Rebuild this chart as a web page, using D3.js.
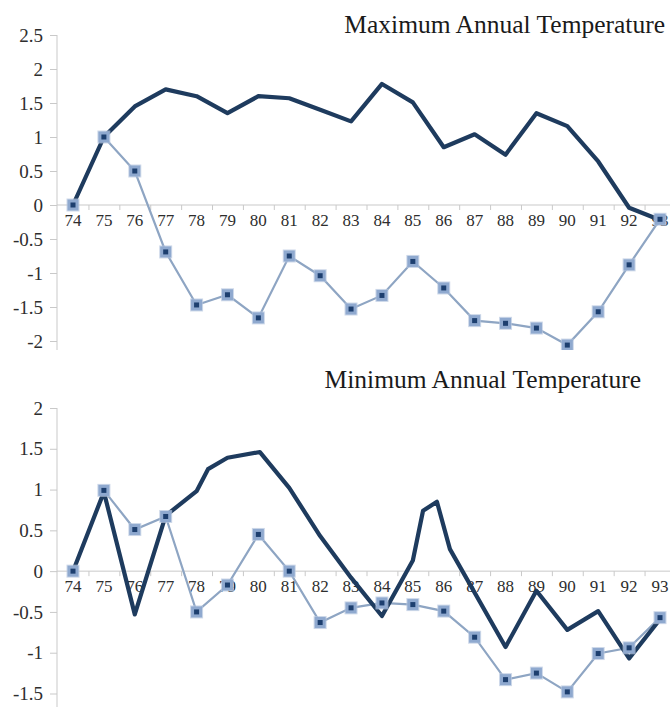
<!DOCTYPE html>
<html><head><meta charset="utf-8">
<script src="https://cdn.jsdelivr.net/npm/d3@7"></script>
<style>
html,body{margin:0;padding:0;background:#fff;}
svg{display:block;}
</style></head>
<body>
<svg id="chart" width="670" height="707"></svg>
<script>
// ---- data ----
const years = [74,75,76,77,78,79,80,81,82,83,84,85,86,87,88,89,90,91,92,93];

const maxTitle = "Maximum Annual Temperature";
const maxDark  = [0, 1.0, 1.45, 1.70, 1.60, 1.35, 1.60, 1.57, 1.40, 1.23, 1.78, 1.51, 0.85, 1.04, 0.74, 1.35, 1.16, 0.64, -0.04, -0.22];
const maxLight = [0, 1.0, 0.5, -0.69, -1.47, -1.32, -1.66, -0.75, -1.04, -1.53, -1.33, -0.83, -1.22, -1.70, -1.74, -1.81, -2.06, -1.57, -0.88, -0.21];
const maxTicks = [2.5, 2, 1.5, 1, 0.5, 0, -0.5, -1, -1.5, -2];

const minTitle = "Minimum Annual Temperature";
const minDarkYears = [74, 75, 76, 77, 78, 78.37, 79, 80.05, 81, 82, 83, 84, 85, 85.33, 85.78, 86.2, 88, 89, 90, 91, 92, 93];
const minDark      = [0, 0.97, -0.53, 0.68, 0.98, 1.25, 1.39, 1.46, 1.02, 0.43, -0.08, -0.55, 0.13, 0.74, 0.85, 0.27, -0.93, -0.24, -0.72, -0.49, -1.07, -0.59];
const minLight = [0, 0.99, 0.51, 0.67, -0.5, -0.17, 0.45, 0.0, -0.63, -0.45, -0.39, -0.41, -0.49, -0.81, -1.33, -1.25, -1.48, -1.01, -0.94, -0.57];
const minTicks = [2, 1.5, 1, 0.5, 0, -0.5, -1, -1.5];

// ---- drawing ----
const svg = d3.select("#chart");
const W = 670;
const axisX = 57;
const darkColor = "#1e3b5e";
const lightColor = "#8ea5c3";
const axisColor = "#c9c9c9";
const textColor = "#2e2e2e";
const serif = "'Liberation Serif','Times New Roman',serif";

const x = d3.scaleLinear().domain([74, 93]).range([73, 660]);
const boundaries = d3.range(74.5, 94, 1);

function panel(cfg) {
  const y = d3.scaleLinear().domain(cfg.domain).range(cfg.range);
  const g = svg.append("g");
  const clipId = "clip" + cfg.id;
  svg.append("clipPath").attr("id", clipId)
    .append("rect").attr("x", 0).attr("y", cfg.clip[0]).attr("width", W).attr("height", cfg.clip[1] - cfg.clip[0]);
  const cg = g.append("g").attr("clip-path", `url(#${clipId})`);

  // title
  svg.append("text")
    .attr("x", cfg.titleX).attr("y", cfg.titleY)
    .attr("text-anchor", "end")
    .attr("font-family", serif).attr("font-size", 25.5)
    .attr("fill", "#1a1a1a")
    .text(cfg.title);

  // y axis
  const yAxis = d3.axisLeft(y).tickValues(cfg.ticks).tickSize(7).tickPadding(7)
    .tickFormat(d => String(d));
  const ya = cg.append("g").attr("transform", `translate(${axisX},0)`).call(yAxis);
  ya.select(".domain").attr("stroke", axisColor).attr("stroke-width", 1)
    .attr("d", `M0,${y(cfg.ticks[0])}V${cfg.clip[1]}`);
  ya.selectAll(".tick line").attr("stroke", axisColor);
  ya.selectAll(".tick text").attr("font-family", serif).attr("font-size", 19).attr("fill", textColor);

  // x axis at zero
  const xa = cg.append("g").attr("transform", `translate(0,${y(0)})`)
    .call(d3.axisBottom(x).tickValues(boundaries).tickSize(5).tickFormat(""));
  xa.select(".domain").attr("stroke", axisColor).attr("d", `M${axisX},0H${W}`);
  xa.selectAll(".tick line").attr("stroke", axisColor);
  xa.selectAll("text.yr").data(years).join("text").attr("class", "yr")
    .attr("x", d => x(d)).attr("y", 21)
    .attr("text-anchor", "middle")
    .attr("font-family", serif).attr("font-size", 17).attr("fill", textColor)
    .text(d => d);

  const line = d3.line().x(d => x(d[0])).y(d => y(d[1]));
  const lightPts = years.map((yr, i) => [yr, cfg.light[i]]);
  const darkPts = cfg.darkYears.map((yr, i) => [yr, cfg.dark[i]]);

  cg.append("path").datum(lightPts).attr("d", line)
    .attr("fill", "none").attr("stroke", lightColor).attr("stroke-width", 2.2);

  cg.append("path").datum(darkPts).attr("d", line)
    .attr("fill", "none").attr("stroke", darkColor).attr("stroke-width", 4.2)
    .attr("stroke-linejoin", "round").attr("stroke-linecap", "round");

  // markers
  const m = cg.selectAll("g.mk").data(lightPts).join("g").attr("class", "mk")
    .attr("transform", d => `translate(${x(d[0])},${y(d[1])})`);
  m.append("rect").attr("x", -6.5).attr("y", -6.5).attr("width", 13).attr("height", 13)
    .attr("fill", "#b8c8e0").attr("opacity", 0.7);
  m.append("rect").attr("x", -5.5).attr("y", -5.5).attr("width", 11).attr("height", 11)
    .attr("fill", "#8fa9cf");
  m.append("rect").attr("x", -2.5).attr("y", -2.5).attr("width", 5).attr("height", 5)
    .attr("fill", "#1d3f6f");
}

panel({
  id: "max", title: maxTitle, titleX: 665, titleY: 33,
  domain: [-2, 2.5], range: [341, 35], clip: [0, 350],
  ticks: maxTicks, light: maxLight, dark: maxDark, darkYears: years
});

panel({
  id: "min", title: minTitle, titleX: 641, titleY: 388,
  domain: [-1.5, 2], range: [693.5, 408], clip: [360, 707],
  ticks: minTicks, light: minLight, dark: minDark, darkYears: minDarkYears
});
</script>
</body></html>
